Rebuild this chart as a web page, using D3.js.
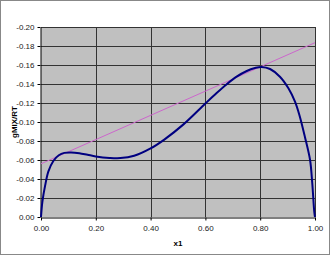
<!DOCTYPE html>
<html>
<head>
<meta charset="utf-8">
<script src="https://cdn.jsdelivr.net/npm/d3@7"></script>
<style>
  body { margin: 0; background: #fff; }
  text { font-family: "Liberation Sans", Arial, sans-serif; }
</style>
</head>
<body>
<div id="chart"></div>
<script>
// Data
const x1Values = [0, 0.005, 0.015, 0.027, 0.045, 0.065, 0.085, 0.11, 0.14, 0.17, 0.20, 0.25, 0.29, 0.34, 0.40, 0.45, 0.52, 0.60, 0.641, 0.678, 0.714, 0.751, 0.781, 0.805, 0.836, 0.872, 0.903, 0.927, 0.943, 0.963, 0.982, 0.990, 0.9975, 1.0];
const gmixValues = [0, -0.016, -0.033, -0.048, -0.059, -0.065, -0.0675, -0.068, -0.0672, -0.0655, -0.0638, -0.0622, -0.062, -0.0645, -0.0722, -0.0815, -0.0975, -0.1195, -0.1305, -0.1398, -0.1477, -0.1537, -0.1568, -0.158, -0.1558, -0.1477, -0.1355, -0.1214, -0.1074, -0.0845, -0.060, -0.0355, -0.005, 0];

// common tangent line
const tangentX = [0, 1];
const tangentY = [-0.056, -0.1835];

const xTicks = [0, 0.2, 0.4, 0.6, 0.8, 1.0];
const yTicks = [0, -0.02, -0.04, -0.06, -0.08, -0.10, -0.12, -0.14, -0.16, -0.18, -0.20];

const width = 330;
const height = 255;
const plot = { left: 41, top: 27, right: 315, bottom: 217 };

const svg = d3.select('#chart')
    .append('svg')
    .attr('width', width)
    .attr('height', height);

// outer chart frame
svg.append('rect')
    .attr('x', 0.5).attr('y', 0.5)
    .attr('width', width - 1).attr('height', height - 1)
    .style('fill', '#fff')
    .style('stroke', '#888');

const x = d3.scaleLinear().domain([0, 1]).range([plot.left, plot.right]);
const y = d3.scaleLinear().domain([0, -0.20]).range([plot.bottom, plot.top]);

// plot area
svg.append('rect')
    .attr('x', plot.left).attr('y', plot.top)
    .attr('width', plot.right - plot.left).attr('height', plot.bottom - plot.top)
    .style('fill', '#c0c0c0');

// gridlines
svg.append('g')
    .selectAll('line')
    .data(yTicks.slice(1))
    .enter()
    .append('line')
    .attr('x1', plot.left).attr('x2', plot.right)
    .attr('y1', d => Math.round(y(d)) + 0.5).attr('y2', d => Math.round(y(d)) + 0.5)
    .style('stroke', '#333')
    .style('stroke-width', 1);

svg.append('g')
    .selectAll('line')
    .data(xTicks.slice(1))
    .enter()
    .append('line')
    .attr('y1', plot.top).attr('y2', plot.bottom)
    .attr('x1', d => Math.round(x(d)) + 0.5).attr('x2', d => Math.round(x(d)) + 0.5)
    .style('stroke', '#333')
    .style('stroke-width', 1);

// axes
const xAxis = svg.append('g')
    .attr('transform', `translate(0,${plot.bottom + 0.5})`)
    .call(d3.axisBottom(x).tickValues(xTicks).tickSizeInner(3).tickSizeOuter(0).tickFormat(d => d.toFixed(2)));

const yAxis = svg.append('g')
    .attr('transform', `translate(${plot.left - 0.5},0)`)
    .call(d3.axisLeft(y).tickValues(yTicks).tickSizeInner(3).tickSizeOuter(0).tickFormat(d => d.toFixed(2)));

[xAxis, yAxis].forEach(a => {
    a.select('.domain').style('stroke', '#000');
    a.selectAll('.tick line').style('stroke', '#000');
    a.selectAll('text')
        .style('font-family', '"Liberation Sans", Arial, sans-serif')
        .style('font-size', '8px')
        .style('fill', '#222');
});
xAxis.selectAll('text').attr('dy', '0.9em');

// tangent line
svg.append('line')
    .attr('x1', x(tangentX[0])).attr('y1', y(tangentY[0]))
    .attr('x2', x(tangentX[1])).attr('y2', y(tangentY[1]))
    .style('stroke', '#cc66cc')
    .style('stroke-width', 1);

// gMIX/RT curve
const line = d3.line()
    .x((d, i) => x(x1Values[i]))
    .y(d => y(d))
    .curve(d3.curveCatmullRom.alpha(0.5));

svg.append('path')
    .datum(gmixValues)
    .attr('d', line)
    .style('fill', 'none')
    .style('stroke', '#000080')
    .style('stroke-width', 2);

// axis titles
svg.append('text')
    .attr('x', (plot.left + plot.right) / 2)
    .attr('y', 246)
    .attr('text-anchor', 'middle')
    .style('font-size', '8px')
    .style('font-weight', 'bold')
    .text('x1');

svg.append('text')
    .attr('transform', `translate(17,${(plot.top + plot.bottom) / 2}) rotate(-90)`)
    .attr('text-anchor', 'middle')
    .style('font-size', '8px')
    .style('font-weight', 'bold')
    .text('gMIX/RT');
</script>
</body>
</html>
